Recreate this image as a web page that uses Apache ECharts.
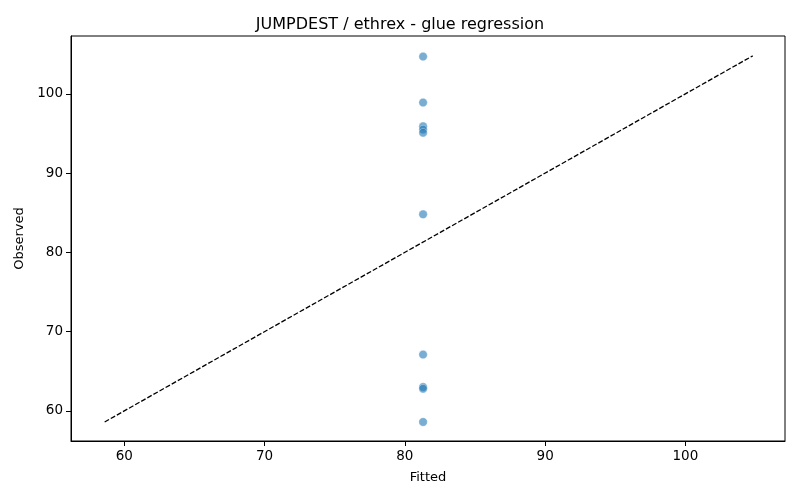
<!DOCTYPE html>
<html>
<head>
<meta charset="utf-8">
<script src="https://cdn.jsdelivr.net/npm/echarts@6/dist/echarts.min.js"></script>
<style>
html,body{margin:0;padding:0;background:#fff;}
#main{width:800px;height:500px;}
</style>
</head>
<body>
<div id="main"></div>
<script>
// fitted vs observed
var fitted = [81.3, 81.3, 81.3, 81.3, 81.3, 81.3, 81.3, 81.3, 81.3, 81.3];
var observed = [104.7, 98.9, 95.9, 95.5, 95.1, 84.8, 67.1, 63.0, 62.8, 58.6];
var diagX = [58.6, 104.8];
var xTicks = [60, 70, 80, 90, 100];
var yTicks = [60, 70, 80, 90, 100];

var points = [];
for (var i = 0; i < fitted.length; i++) {
    points.push([fitted[i], observed[i]]);
}
var diag = diagX.map(function (v) { return [v, v]; });

var font = 'DejaVu Sans';
var myChart = echarts.init(document.getElementById('main'));
var axisCommon = {
    type: 'value',
    nameLocation: 'middle',
    nameTextStyle: {color: '#000', fontSize: 13, fontFamily: font},
    axisLine: {show: true, onZero: false, lineStyle: {color: '#000', width: 1}},
    splitLine: {show: false}
};
var option = {
    animation: false,
    backgroundColor: '#fff',
    title: {
        text: 'JUMPDEST / ethrex - glue regression',
        left: 'center',
        top: 12,
        textStyle: {color: '#000', fontSize: 16, fontWeight: 'normal', fontFamily: font}
    },
    grid: {left: 71, right: 15, top: 36, bottom: 59, show: true, borderColor: '#000', borderWidth: 1},
    xAxis: echarts.util.merge({
        name: 'Fitted',
        nameGap: 30,
        min: 56.2,
        max: 107.1,
        axisTick: {show: true, length: 5, lineStyle: {color: '#000'}, customValues: xTicks},
        axisLabel: {color: '#000', fontSize: 13.5, fontFamily: font, margin: 8, customValues: xTicks}
    }, axisCommon, true),
    yAxis: echarts.util.merge({
        name: 'Observed',
        nameGap: 45,
        min: 56.2,
        max: 107.3,
        axisTick: {show: true, length: 5, lineStyle: {color: '#000'}, customValues: yTicks},
        axisLabel: {color: '#000', fontSize: 13.5, fontFamily: font, margin: 8, customValues: yTicks}
    }, axisCommon, true),
    series: [
        {
            type: 'line',
            data: diag,
            symbol: 'none',
            z: 1,
            lineStyle: {color: '#000', width: 1.3, type: [5, 2]}
        },
        {
            type: 'scatter',
            data: points,
            symbolSize: 8.5,
            z: 2,
            itemStyle: {color: 'rgba(31,119,180,0.75)', borderColor: '#fff', borderWidth: 0.4}
        }
    ]
};
myChart.setOption(option);
</script>
</body>
</html>
